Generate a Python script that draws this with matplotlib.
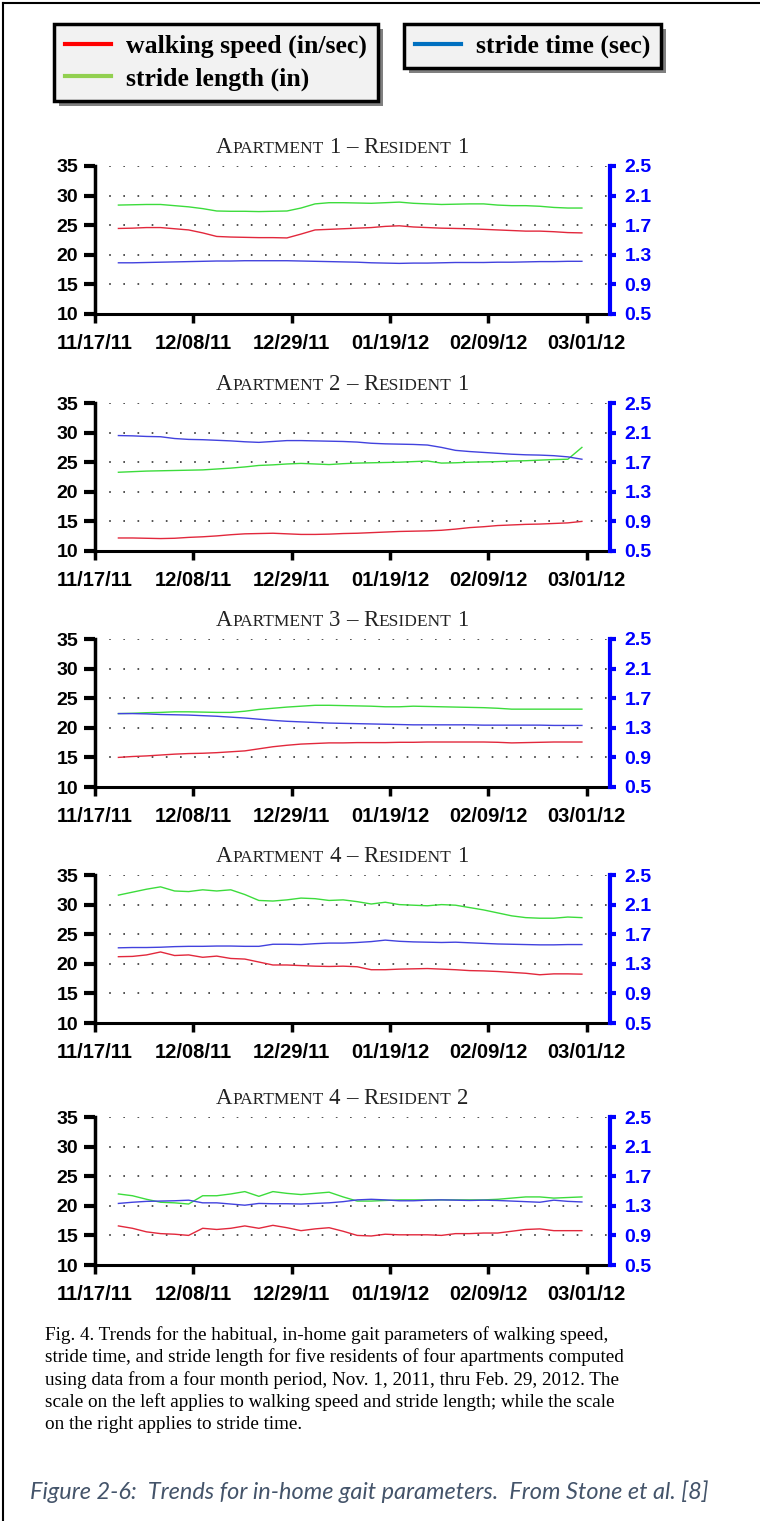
import matplotlib
matplotlib.use("Agg")
import matplotlib.pyplot as plt
import matplotlib.dates as mdates
from matplotlib.lines import Line2D
from matplotlib.patches import Rectangle
from matplotlib.ticker import FixedLocator, FormatStrFormatter
import pandas as pd

W, H = 760, 1521

# ---------------------------------------------------------------
# data (one value every 3 days)
# ---------------------------------------------------------------
dates = pd.date_range("2011-11-22", periods=34, freq="3D")
tick_dates = pd.date_range("2011-11-17", periods=6, freq="21D")
left_ticks = [10, 15, 20, 25, 30, 35]
right_ticks = [0.5, 0.9, 1.3, 1.7, 2.1, 2.5]

panel_titles = [("1", "1"), ("2", "1"), ("3", "1"), ("4", "1"), ("4", "2")]

legend1_labels = ["walking speed (in/sec)", "stride length (in)"]
legend2_labels = ["stride time (sec)"]

apt1_speed = [24.45, 24.5, 24.6, 24.6, 24.4, 24.2, 23.7, 23.1, 23.0, 22.95, 22.9, 22.9,
              22.85, 23.5, 24.2, 24.3, 24.4, 24.5, 24.6, 24.8, 24.9, 24.7, 24.6, 24.5,
              24.45, 24.4, 24.3, 24.2, 24.1, 24.0, 24.0, 23.9, 23.75, 23.7]
apt1_length = [28.4, 28.45, 28.5, 28.5, 28.3, 28.1, 27.8, 27.4, 27.35, 27.35, 27.3, 27.35,
               27.4, 27.9, 28.6, 28.8, 28.8, 28.75, 28.7, 28.8, 28.9, 28.7, 28.6, 28.5,
               28.55, 28.6, 28.6, 28.4, 28.3, 28.3, 28.2, 28.0, 27.9, 27.9]
apt1_stride = [1.192, 1.192, 1.196, 1.200, 1.204, 1.208, 1.212, 1.216, 1.216, 1.220, 1.220, 1.220,
               1.220, 1.216, 1.212, 1.208, 1.204, 1.200, 1.192, 1.188, 1.184, 1.188, 1.188, 1.192,
               1.196, 1.196, 1.196, 1.200, 1.200, 1.204, 1.208, 1.208, 1.212, 1.212]

apt2_speed = [12.2, 12.2, 12.15, 12.1, 12.15, 12.3, 12.4, 12.55, 12.75, 12.9, 12.95, 13.0,
              12.9, 12.8, 12.8, 12.85, 12.95, 13.0, 13.1, 13.2, 13.3, 13.35, 13.4, 13.5,
              13.7, 13.95, 14.1, 14.3, 14.4, 14.5, 14.55, 14.65, 14.75, 15.0]
apt2_length = [23.3, 23.4, 23.5, 23.55, 23.6, 23.65, 23.7, 23.85, 24.0, 24.2, 24.45, 24.55,
               24.7, 24.8, 24.7, 24.6, 24.75, 24.85, 24.9, 24.95, 25.0, 25.1, 25.2, 24.85,
               24.9, 25.0, 25.05, 25.1, 25.2, 25.25, 25.35, 25.45, 25.5, 27.5]
apt2_stride = [2.060, 2.056, 2.048, 2.044, 2.020, 2.008, 2.004, 1.996, 1.988, 1.976, 1.968, 1.980,
               1.992, 1.992, 1.988, 1.984, 1.980, 1.972, 1.956, 1.948, 1.944, 1.940, 1.932, 1.900,
               1.860, 1.844, 1.832, 1.820, 1.808, 1.800, 1.796, 1.788, 1.772, 1.740]

apt3_speed = [15.0, 15.15, 15.25, 15.4, 15.55, 15.65, 15.7, 15.8, 15.95, 16.1, 16.45, 16.8,
              17.05, 17.25, 17.35, 17.45, 17.45, 17.5, 17.5, 17.5, 17.55, 17.55, 17.6, 17.6,
              17.6, 17.6, 17.6, 17.55, 17.45, 17.5, 17.55, 17.6, 17.6, 17.6]
apt3_length = [22.4, 22.45, 22.55, 22.6, 22.7, 22.7, 22.65, 22.6, 22.6, 22.8, 23.1, 23.3,
               23.5, 23.65, 23.8, 23.8, 23.75, 23.7, 23.65, 23.55, 23.55, 23.65, 23.6, 23.55,
               23.5, 23.45, 23.4, 23.3, 23.15, 23.15, 23.15, 23.15, 23.15, 23.15]
apt3_stride = [1.492, 1.492, 1.488, 1.480, 1.476, 1.472, 1.464, 1.456, 1.444, 1.432, 1.416, 1.400,
               1.388, 1.380, 1.372, 1.364, 1.360, 1.356, 1.352, 1.348, 1.344, 1.340, 1.340, 1.340,
               1.340, 1.340, 1.336, 1.336, 1.336, 1.336, 1.336, 1.332, 1.332, 1.332]

apt4r1_speed = [21.2, 21.25, 21.5, 22.0, 21.4, 21.5, 21.1, 21.3, 20.9, 20.8, 20.3, 19.8,
                19.8, 19.7, 19.6, 19.55, 19.6, 19.5, 19.0, 19.0, 19.1, 19.15, 19.2, 19.1,
                19.0, 18.85, 18.8, 18.7, 18.55, 18.4, 18.15, 18.3, 18.3, 18.25]
apt4r1_length = [31.6, 32.1, 32.6, 33.0, 32.3, 32.2, 32.5, 32.3, 32.5, 31.7, 30.7, 30.6,
                 30.8, 31.1, 31.0, 30.7, 30.8, 30.5, 30.1, 30.4, 30.0, 29.9, 29.8, 30.0,
                 29.9, 29.5, 29.1, 28.6, 28.1, 27.8, 27.7, 27.7, 27.9, 27.8]
apt4r1_stride = [1.516, 1.520, 1.520, 1.524, 1.532, 1.536, 1.536, 1.540, 1.540, 1.536, 1.536, 1.564,
                 1.564, 1.560, 1.572, 1.580, 1.580, 1.588, 1.600, 1.620, 1.604, 1.596, 1.592, 1.588,
                 1.592, 1.584, 1.576, 1.568, 1.564, 1.560, 1.556, 1.556, 1.560, 1.560]

apt4r2_speed = [16.6, 16.2, 15.6, 15.3, 15.2, 15.0, 16.2, 16.0, 16.2, 16.6, 16.2, 16.7,
                16.3, 15.8, 16.1, 16.3, 15.7, 15.0, 14.9, 15.2, 15.1, 15.1, 15.1, 15.0,
                15.3, 15.3, 15.4, 15.4, 15.7, 16.0, 16.1, 15.8, 15.8, 15.8]
apt4r2_length = [22.0, 21.7, 21.1, 20.6, 20.5, 20.3, 21.7, 21.7, 22.0, 22.4, 21.6, 22.4,
                 22.1, 21.9, 22.1, 22.3, 21.5, 20.8, 20.8, 20.9, 21.0, 21.0, 21.0, 21.0,
                 21.0, 21.0, 21.0, 21.1, 21.3, 21.5, 21.5, 21.3, 21.4, 21.5]
apt4r2_stride = [1.332, 1.348, 1.360, 1.364, 1.368, 1.376, 1.340, 1.340, 1.324, 1.308, 1.332, 1.328,
                 1.328, 1.324, 1.332, 1.340, 1.356, 1.380, 1.388, 1.380, 1.368, 1.368, 1.376, 1.380,
                 1.376, 1.372, 1.376, 1.372, 1.364, 1.356, 1.348, 1.376, 1.360, 1.352]

caption_lines = [
    "Fig. 4. Trends for the habitual, in-home gait parameters of walking speed,",
    "stride time, and stride length for five residents of four apartments computed",
    "using data from a four month period, Nov. 1, 2011, thru Feb. 29, 2012. The",
    "scale on the left applies to walking speed and stride length; while the scale",
    "on the right applies to stride time.",
]
figure_caption = "Figure 2-6:  Trends for in-home gait parameters.  From Stone et al. [8]"

# ---------------------------------------------------------------
# style
# ---------------------------------------------------------------
SPEED_C = "#E2283C"
LENGTH_C = "#3CDC3C"
STRIDE_C = "#4242DE"
RIGHT_C = "#0000FF"
SERIF = "Liberation Serif"
SANS = "Liberation Sans"

panel_tops = [166, 403, 639, 875, 1117]   # pixel rows of the y=35 line
PANEL_H = 148
AX_LEFT, AX_RIGHT = 95, 610
TITLE_CX = 342

panels = [
    (apt1_speed, apt1_length, apt1_stride),
    (apt2_speed, apt2_length, apt2_stride),
    (apt3_speed, apt3_length, apt3_stride),
    (apt4r1_speed, apt4r1_length, apt4r1_stride),
    (apt4r2_speed, apt4r2_length, apt4r2_stride),
]

fig = plt.figure(figsize=(W / 100, H / 100), dpi=100)
fig.patch.set_facecolor("white")

axes = []
for (speed, length, stride), top in zip(panels, panel_tops):
    ax = fig.add_axes([AX_LEFT / W, 1 - (top + PANEL_H) / H,
                       (AX_RIGHT - AX_LEFT) / W, PANEL_H / H])
    ax2 = ax.twinx()

    ax.plot(dates, speed, color=SPEED_C, lw=1.0, zorder=3)
    ax.plot(dates, length, color=LENGTH_C, lw=1.0, zorder=3)
    ax2.plot(dates, stride, color=STRIDE_C, lw=1.0, zorder=3)

    ax.set_xlim(pd.Timestamp("2011-11-17"), pd.Timestamp("2012-03-06"))
    ax.set_ylim(10, 35)
    ax2.set_ylim(0.5, 2.5)

    ax.xaxis.set_major_locator(FixedLocator(mdates.date2num(tick_dates)))
    ax.xaxis.set_major_formatter(mdates.DateFormatter("%m/%d/%y"))
    ax.set_yticks(left_ticks)
    ax2.set_yticks(right_ticks)
    ax2.yaxis.set_major_formatter(FormatStrFormatter("%.1f"))

    ax.yaxis.grid(True, linestyle=(0, (1, 7.5)), color="#333333", lw=1.2)
    ax.set_axisbelow(True)

    for s in ("top", "right"):
        ax.spines[s].set_visible(False)
    for s in ("top", "left", "bottom"):
        ax2.spines[s].set_visible(False)
    ax.spines["left"].set_linewidth(2.5)
    ax.spines["bottom"].set_linewidth(2.2)
    ax2.spines["right"].set_linewidth(3)
    ax2.spines["right"].set_color(RIGHT_C)

    ax.tick_params(axis="y", length=8, width=3, pad=4)
    ax.tick_params(axis="x", length=6.5, width=2.5, pad=8)
    ax2.tick_params(axis="y", length=4.5, width=3, pad=6, color=RIGHT_C,
                    labelcolor=RIGHT_C)
    for lab in ax.get_xticklabels() + ax.get_yticklabels() + ax2.get_yticklabels():
        lab.set_fontfamily(SANS)
        lab.set_fontweight("bold")
        lab.set_fontsize(14)
    for lab in ax.get_xticklabels():
        lab.set_fontsize(14.5)
    axes.append(ax)

# ---------------------------------------------------------------
# legends
# ---------------------------------------------------------------
leg_font = {"family": SERIF, "weight": "bold", "size": 18.5}
h1 = [Line2D([], [], color="#FF0000", lw=3), Line2D([], [], color="#92D050", lw=3)]
h2 = [Line2D([], [], color="#0070C0", lw=3)]
legs = []
for handles, labels, x0 in ((h1, legend1_labels, 54), (h2, legend2_labels, 404)):
    leg = fig.legend(handles, labels, loc="upper left",
                     bbox_to_anchor=(x0 / W, 1 - 24 / H), borderaxespad=0,
                     prop=leg_font, fancybox=False, shadow=False, framealpha=1,
                     edgecolor="black", facecolor="#F2F2F2", handlelength=1.8,
                     handletextpad=0.6, borderpad=0.41, labelspacing=0.36)
    leg.get_frame().set_linewidth(2.5)
    legs.append(leg)

# ---------------------------------------------------------------
# captions
# ---------------------------------------------------------------
for i, line in enumerate(caption_lines):
    fig.text(45 / W, 1 - (1335 + 22.3 * i) / H, line, family=SERIF, fontsize=13.8,
             ha="left", va="center")
fig.text(30 / W, 1 - 1492 / H, figure_caption, family="Lato", style="italic",
         fontsize=16.9, color="#44546A", ha="left", va="center")

# page border (left and top)
fig.add_artist(Line2D([3 / W, 3 / W], [0, 1 - 3 / H], color="black", lw=1.5))
fig.add_artist(Line2D([3 / W, 1], [1 - 3 / H, 1 - 3 / H], color="black", lw=1.5))

# ---------------------------------------------------------------
# small-caps titles and legend shadows (need renderer sizes)
# ---------------------------------------------------------------
fig.canvas.draw()
renderer = fig.canvas.get_renderer()

for leg in legs:
    bb = leg.get_window_extent(renderer)
    fig.add_artist(Rectangle((bb.x0 + 5, bb.y0 - 5), bb.width, bb.height,
                             transform=None, facecolor="#808080",
                             edgecolor="none", zorder=1))

BIG, SMALL = 16.5, 12.5
for ax, (apt, res) in zip(axes, panel_titles):
    pieces = [("A", BIG), ("PARTMENT", SMALL), (None, 0), (apt, BIG), (None, 0),
              ("\u2013", BIG), (None, 0), ("R", BIG), ("ESIDENT", SMALL),
              (None, 0), (res, BIG)]
    space = 0.25 * BIG * 100 / 72
    texts, widths = [], []
    for s, size in pieces:
        if s is None:
            texts.append(None)
            widths.append(space)
            continue
        t = fig.text(0, 0, s, fontsize=size, family=SERIF, color="#222222",
                     ha="left", va="baseline", transform=None)
        texts.append(t)
        widths.append(t.get_window_extent(renderer).width)
    bbox = ax.get_window_extent(renderer)
    x = TITLE_CX - sum(widths) / 2
    y = bbox.y1 + 13
    for t, w in zip(texts, widths):
        if t is not None:
            t.set_position((x, y))
        x += w

fig.savefig("out.png", dpi=100, facecolor="white")
